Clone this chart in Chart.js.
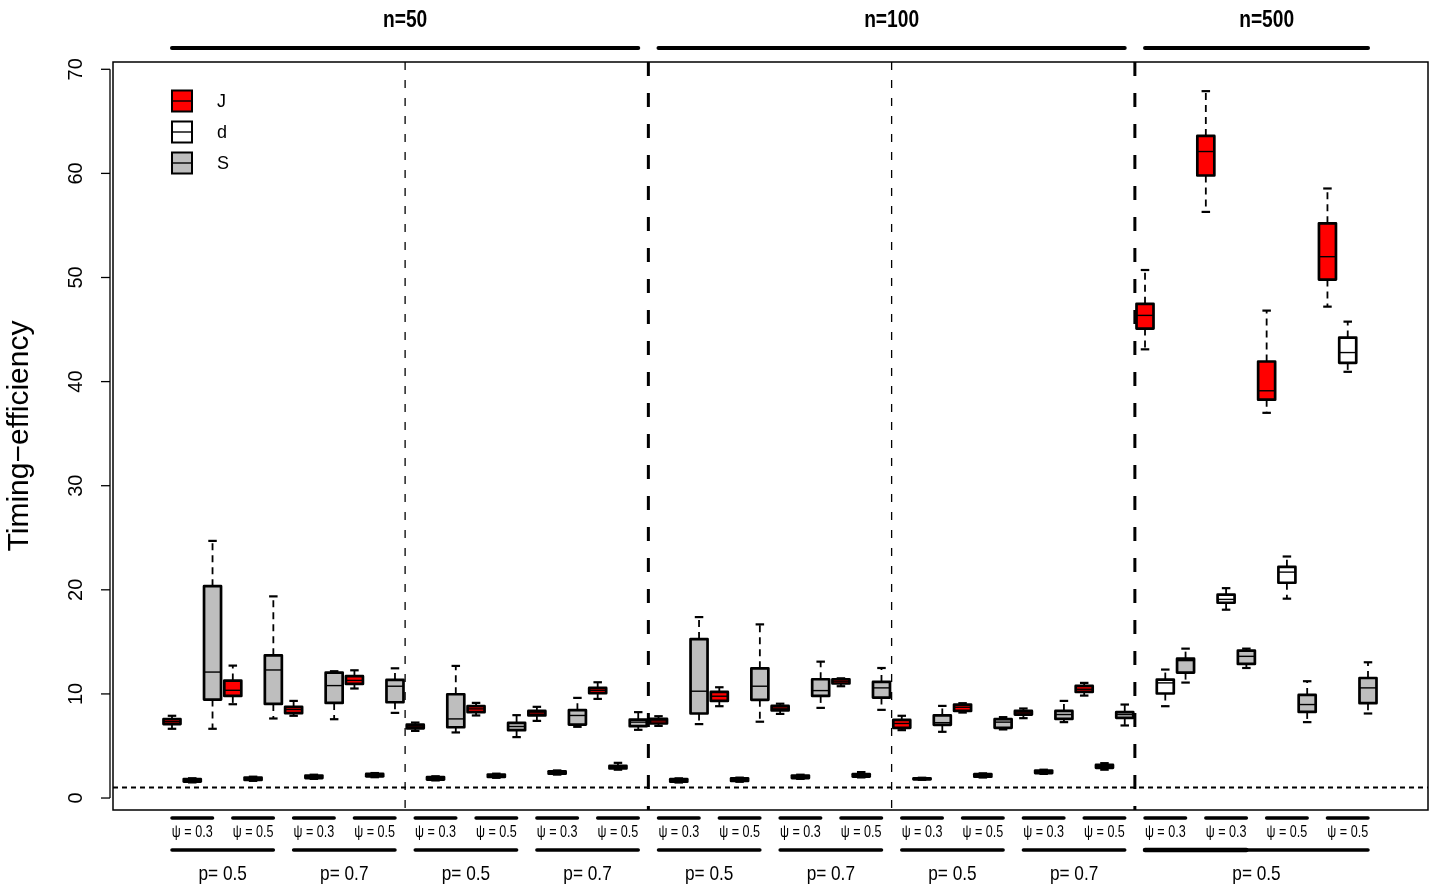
<!DOCTYPE html>
<html>
<head>
<meta charset="utf-8">
<script src="https://cdn.jsdelivr.net/npm/chart.js@4/dist/chart.umd.min.js"></script>
<style>
  html, body { margin: 0; padding: 0; background: #ffffff; }
  canvas { display: block; }
</style>
</head>
<body>
<canvas id="chart" width="1437" height="886"></canvas>
<script>
// Methods compared in every ψ block, in drawing order
const methods = ['J', 'd', 'S'];
const methodColors = ['#ff0000', '#ffffff', '#bebebe'];

// Five-number summaries per ψ block: [lower whisker, Q1, median, Q3, upper whisker]
const statsJ = [
  [6.65, 7.10, 7.33, 7.57, 7.90], [9.01, 9.81, 10.35, 11.28, 12.72],
  [7.90, 8.15, 8.50, 8.76, 9.33], [10.52, 10.96, 11.30, 11.70, 12.27],
  [6.45, 6.70, 6.90, 7.05, 7.25], [7.93, 8.25, 8.56, 8.82, 9.14],
  [7.41, 7.93, 8.18, 8.37, 8.76], [9.52, 10.07, 10.35, 10.58, 11.12],
  [6.93, 7.16, 7.41, 7.60, 7.86], [8.82, 9.33, 9.78, 10.19, 10.64],
  [8.08, 8.41, 8.63, 8.85, 9.06], [10.74, 11.00, 11.22, 11.41, 11.50],
  [6.52, 6.74, 7.16, 7.50, 7.90], [8.21, 8.37, 8.72, 8.98, 9.11],
  [7.67, 8.02, 8.18, 8.37, 8.60], [9.84, 10.19, 10.45, 10.77, 11.06],
  [43.10, 45.09, 46.36, 47.47, 50.72], [56.30, 59.80, 62.10, 63.60, 67.90],
  [37.00, 38.26, 39.12, 41.93, 46.82], [47.20, 49.80, 52.00, 55.20, 58.55]
];
const statsD = [
  [1.50, 1.58, 1.70, 1.82, 1.90], [1.65, 1.73, 1.85, 1.97, 2.05],
  [1.84, 1.92, 2.04, 2.16, 2.24], [2.00, 2.08, 2.20, 2.32, 2.40],
  [1.69, 1.77, 1.89, 2.01, 2.09], [1.94, 2.02, 2.14, 2.26, 2.34],
  [2.25, 2.33, 2.45, 2.57, 2.65], [2.72, 2.84, 2.97, 3.10, 3.38],
  [1.49, 1.57, 1.69, 1.81, 1.89], [1.56, 1.64, 1.76, 1.88, 1.96],
  [1.84, 1.92, 2.04, 2.16, 2.24], [1.98, 2.06, 2.17, 2.29, 2.49],
  [1.75, 1.80, 1.85, 1.90, 1.95], [1.97, 2.05, 2.17, 2.29, 2.37],
  [2.32, 2.40, 2.52, 2.64, 2.72], [2.72, 2.90, 3.04, 3.18, 3.35],
  [8.82, 10.04, 11.06, 11.38, 12.34], [18.09, 18.76, 19.08, 19.53, 20.16],
  [19.15, 20.68, 21.70, 22.21, 23.20], [40.94, 41.80, 42.79, 44.23, 45.76]
];
const statsS = [
  [6.65, 9.46, 12.10, 20.35, 24.70], [7.64, 9.04, 12.30, 13.71, 19.37],
  [7.57, 9.14, 10.80, 12.05, 12.18], [8.18, 9.20, 10.74, 11.34, 12.46],
  [6.30, 6.80, 7.60, 9.97, 12.69], [5.85, 6.52, 6.87, 7.22, 7.96],
  [6.84, 7.06, 7.93, 8.44, 9.62], [6.55, 6.90, 7.29, 7.53, 8.25],
  [7.10, 8.12, 10.26, 15.27, 17.38], [7.33, 9.43, 10.74, 12.46, 16.68],
  [8.66, 9.81, 10.32, 11.41, 13.10], [8.47, 9.65, 10.58, 11.15, 12.49],
  [6.36, 7.03, 7.24, 7.93, 8.85], [6.59, 6.74, 7.29, 7.57, 7.77],
  [7.29, 7.60, 8.02, 8.37, 9.33], [6.97, 7.70, 8.02, 8.25, 8.98],
  [11.09, 12.05, 13.20, 13.39, 14.35], [12.49, 12.88, 13.61, 14.16, 14.35],
  [7.29, 8.27, 8.98, 9.90, 11.22], [8.12, 9.11, 10.58, 11.53, 13.04]
];

// Group annotations (positions are box indices, three boxes per ψ block)
const sampleSizes = ['n=50', 'n=100', 'n=500'];
const sampleSpans = [[0, 23], [24, 47], [48, 59]];
const sampleLabelAt = [11.5, 35.5, 54];
const psiValues = ['0.3', '0.5', '0.3', '0.5', '0.3', '0.5', '0.3', '0.5',
                   '0.3', '0.5', '0.3', '0.5', '0.3', '0.5', '0.3', '0.5',
                   '0.3', '0.3', '0.5', '0.5'];
const pValues = ['0.5', '0.7', '0.5', '0.7', '0.5', '0.7', '0.5', '0.7', '0.5'];
const pSpans = [[0, 5], [6, 11], [12, 17], [18, 23], [24, 29], [30, 35], [36, 41], [42, 47], [48, 59]];
const sectionBreaks = [23.5, 47.5];
const subBreaks = [11.5, 35.5];
const refLevel = 1;
const yTicks = [0, 10, 20, 30, 40, 50, 60, 70];
const yTitle = 'Timing\u2212efficiency';

const allStats = [statsJ, statsD, statsS];
const BOX_W = 17;

const datasets = methods.map((name, m) => ({
  label: name,
  stats: allStats[m],
  data: allStats[m].map((s, g) => ({ x: 3 * g + m, y: [s[1], s[3]] })),
  backgroundColor: methodColors[m],
  borderWidth: 0,
  inflateAmount: 0,
  borderSkipped: false,
  barThickness: BOX_W,
  grouped: false
}));

const SANS = '"Liberation Sans", Arial, Helvetica, sans-serif';

function seg(ctx, x1, y1, x2, y2) {
  ctx.beginPath(); ctx.moveTo(x1, y1); ctx.lineTo(x2, y2); ctx.stroke();
}
// condensed text: regular sans squeezed horizontally
function narrowText(ctx, text, cx, cy, font, sx) {
  ctx.save();
  ctx.translate(cx, cy);
  ctx.scale(sx, 1);
  ctx.font = font;
  ctx.textAlign = 'center';
  ctx.textBaseline = 'middle';
  ctx.fillStyle = '#000';
  ctx.fillText(text, 0, 0);
  ctx.restore();
}

const boxplotPlugin = {
  id: 'boxplot',
  beforeDatasetsDraw(chart) {
    const { ctx, chartArea: a, scales: { x, y } } = chart;
    ctx.save();
    ctx.strokeStyle = '#000';
    // reference level
    ctx.lineWidth = 2;
    ctx.setLineDash([5, 4]);
    const yr = y.getPixelForValue(refLevel);
    seg(ctx, a.left, yr, a.right, yr);
    // p-level separators
    ctx.lineWidth = 1.3;
    ctx.setLineDash([8, 10]);
    subBreaks.forEach(v => { const px = x.getPixelForValue(v); seg(ctx, px, a.top, px, a.bottom); });
    // sample-size separators
    ctx.lineWidth = 3;
    ctx.setLineDash([14, 17]);
    sectionBreaks.forEach(v => { const px = x.getPixelForValue(v); seg(ctx, px, a.top, px, a.bottom); });
    // whiskers and staples
    chart.data.datasets.forEach(ds => {
      ds.stats.forEach((s, g) => {
        const cx = x.getPixelForValue(ds.data[g].x);
        const pLo = y.getPixelForValue(s[0]), pQ1 = y.getPixelForValue(s[1]);
        const pQ3 = y.getPixelForValue(s[3]), pHi = y.getPixelForValue(s[4]);
        ctx.lineWidth = 1.8;
        ctx.setLineDash([7, 5]);
        seg(ctx, cx, pQ3, cx, pHi);
        seg(ctx, cx, pQ1, cx, pLo);
        ctx.setLineDash([]);
        ctx.lineWidth = 2.2;
        seg(ctx, cx - BOX_W / 4, pHi, cx + BOX_W / 4, pHi);
        seg(ctx, cx - BOX_W / 4, pLo, cx + BOX_W / 4, pLo);
      });
    });
    ctx.restore();
  },
  afterDatasetsDraw(chart) {
    const { ctx, scales: { y } } = chart;
    ctx.save();
    ctx.strokeStyle = '#000';
    ctx.lineJoin = 'round';
    chart.data.datasets.forEach((ds, di) => {
      const meta = chart.getDatasetMeta(di);
      meta.data.forEach((bar, g) => {
        const left = bar.x - bar.width / 2;
        const top = Math.min(bar.y, bar.base);
        const h = Math.abs(bar.base - bar.y);
        // median
        ctx.lineWidth = 1.4;
        const pm = y.getPixelForValue(ds.stats[g][2]);
        seg(ctx, left, pm, left + bar.width, pm);
        // box outline
        ctx.lineWidth = 2.7;
        ctx.strokeRect(left, top, bar.width, h);
      });
    });
    ctx.restore();
  },
  afterDraw(chart) {
    const { ctx, chartArea: a, scales: { x, y } } = chart;
    ctx.save();
    ctx.strokeStyle = '#000';
    ctx.fillStyle = '#000';
    // frame
    ctx.lineWidth = 1.5;
    ctx.strokeRect(a.left, a.top, a.right - a.left, a.bottom - a.top);
    // y axis
    const axX = a.left - 3;
    ctx.lineWidth = 1.3;
    seg(ctx, axX, y.getPixelForValue(yTicks[0]), axX, y.getPixelForValue(yTicks[yTicks.length - 1]));
    yTicks.forEach(t => {
      const py = y.getPixelForValue(t);
      seg(ctx, axX - 9, py, axX, py);
      ctx.save();
      ctx.translate(76, py);
      ctx.rotate(-Math.PI / 2);
      ctx.font = '20px ' + SANS;
      ctx.textAlign = 'center';
      ctx.textBaseline = 'middle';
      ctx.fillText(String(t), 0, 0);
      ctx.restore();
    });
    // y title
    ctx.save();
    ctx.translate(20, (a.top + a.bottom) / 2);
    ctx.rotate(-Math.PI / 2);
    ctx.font = '30px ' + SANS;
    ctx.textAlign = 'center';
    ctx.textBaseline = 'middle';
    ctx.fillText(yTitle, 0, 0);
    ctx.restore();

    ctx.lineCap = 'round';
    // sample size headers
    sampleSizes.forEach((lab, i) => {
      ctx.lineWidth = 4;
      seg(ctx, x.getPixelForValue(sampleSpans[i][0]), 48, x.getPixelForValue(sampleSpans[i][1]), 48);
      narrowText(ctx, lab, x.getPixelForValue(sampleLabelAt[i]), 20, 'bold 24px ' + SANS, 0.8);
    });
    // ψ blocks
    psiValues.forEach((v, g) => {
      ctx.lineWidth = 3.5;
      seg(ctx, x.getPixelForValue(3 * g), 818, x.getPixelForValue(3 * g + 2), 818);
      narrowText(ctx, '\u03c8 = ' + v, x.getPixelForValue(3 * g + 1), 832, '17px ' + SANS, 0.74);
    });
    // p groups
    pValues.forEach((v, k) => {
      const [s, e] = pSpans[k];
      ctx.lineWidth = 3.5;
      seg(ctx, x.getPixelForValue(s), 850, x.getPixelForValue(e), 850);
      narrowText(ctx, 'p= ' + v, x.getPixelForValue((s + e) / 2), 874, '21px ' + SANS, 0.82);
    });
    // the last p group is underlined twice over its first half
    ctx.lineWidth = 4.5;
    seg(ctx, x.getPixelForValue(48), 850, x.getPixelForValue(53), 850);
    ctx.lineCap = 'butt';

    // legend
    const lx = 172, lw = 20, lh = 21;
    const rows = [90.5, 121.5, 152.5];
    methods.forEach((name, m) => {
      const ty = rows[m];
      ctx.fillStyle = methodColors[m];
      ctx.fillRect(lx, ty, lw, lh);
      ctx.lineWidth = 2;
      ctx.strokeStyle = '#000';
      ctx.strokeRect(lx, ty, lw, lh);
      ctx.lineWidth = 1.4;
      seg(ctx, lx, ty + lh / 2, lx + lw, ty + lh / 2);
      ctx.fillStyle = '#000';
      ctx.font = '18px ' + SANS;
      ctx.textAlign = 'left';
      ctx.textBaseline = 'middle';
      ctx.fillText(name, 217, ty + lh / 2 + 1);
    });
    ctx.restore();
  }
};

new Chart(document.getElementById('chart'), {
  type: 'bar',
  data: { datasets },
  options: {
    responsive: false,
    animation: false,
    events: [],
    layout: { padding: { left: 113, right: 9, top: 62, bottom: 76 } },
    plugins: { legend: { display: false }, tooltip: { enabled: false } },
    scales: {
      x: { type: 'linear', offset: false, min: -2.91, max: 61.96, display: false },
      y: { type: 'linear', min: -1.15, max: 70.7, display: false }
    }
  },
  plugins: [boxplotPlugin]
});
</script>
</body>
</html>
